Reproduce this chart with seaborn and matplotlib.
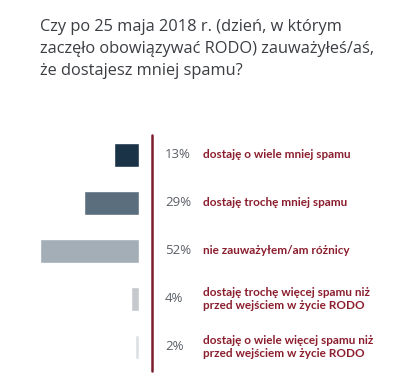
import matplotlib
matplotlib.use("Agg")
import matplotlib.pyplot as plt
import matplotlib.transforms as mtransforms
from matplotlib.lines import Line2D
import pandas as pd
import seaborn as sns

# data
answers = [
    "dostaję o wiele mniej spamu",
    "dostaję trochę mniej spamu",
    "nie zauważyłem/am różnicy",
    "dostaję trochę więcej spamu niż\nprzed wejściem w życie RODO",
    "dostaję o wiele więcej spamu niż\nprzed wejściem w życie RODO",
]
shares = [13, 29, 52, 4, 2]
bar_colors = ["#1b3347", "#5b6e7e", "#a4aeb6", "#c5c9cd", "#dde0e3"]

title = ("Czy po 25 maja 2018 r. (dzień, w którym\n"
         "zaczęło obowiązywać RODO) zauważyłeś/aś,\n"
         "że dostajesz mniej spamu?")

df = pd.DataFrame({"answer": answers, "share": shares})

sns.set_style("white")
W, H = 417, 388
fig = plt.figure(figsize=(W / 100, H / 100), dpi=100)

# axes: bars grow leftwards from x=139px, rows 48px apart starting at y=131px
px_per_pct = 1.904
xmax = 60
right_px = 139
left_px = right_px - xmax * px_per_pct
top_px, bottom_px = 131, 371
ax = fig.add_axes([left_px / W, (H - bottom_px) / H,
                   (right_px - left_px) / W, (bottom_px - top_px) / H])

sns.barplot(data=df, y="answer", x="share", hue="answer", palette=bar_colors,
            orient="h", width=0.5, legend=False, ax=ax, saturation=1)
ax.set_xlim(xmax, 0)
ax.set_ylim(4.5, -0.5)
ax.axis("off")

trans = mtransforms.blended_transform_factory(fig.transFigure, ax.transData)
for i, (a, s) in enumerate(zip(answers, shares)):
    ax.text(165 / W, i, f"{s}%", transform=trans, ha="left", va="center",
            fontsize=9.5, color="#5a5f66", family="Open Sans")
    ax.text(203 / W, i, a, transform=trans, ha="left", va="center",
            fontsize=8.5, color="#8b1e2e", family="Lato", fontweight="bold",
            linespacing=1.15)

fig.add_artist(Line2D([152 / W, 152 / W], [(H - 135) / H, (H - 371) / H],
                      transform=fig.transFigure, color="#7a1c2c", lw=1.8))

fig.text(40 / W, 1 - 19 / H, title, ha="left", va="top", fontsize=11.8,
         color="#3a3d42", family="Open Sans", linespacing=1.5)

fig.savefig("out.png", dpi=100, facecolor="white")
